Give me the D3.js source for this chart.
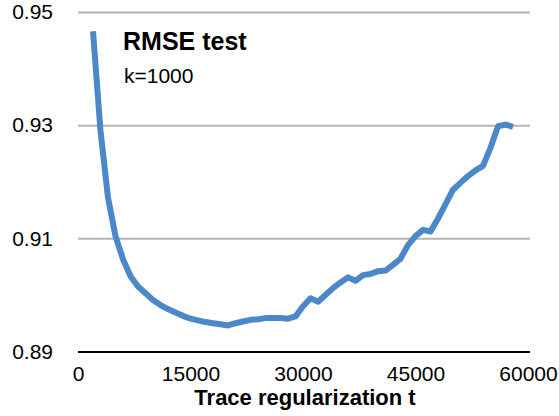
<!DOCTYPE html>
<html>
  <head>
    <script src="https://cdn.jsdelivr.net/npm/d3@7"></script>
    <style>
      html, body {
        margin: 0;
        padding: 0;
        background: #fff;
      }
      body {
        font-family: 'Liberation Sans', Arial, Helvetica, sans-serif;
      }
      #chart svg {
        display: block;
      }
    </style>
  </head>
  <body>
    <div id="chart"></div>
    <script>
      // trace regularization t
      var tValues = [2000, 3000, 4000, 5000, 6000, 7000, 8000, 9000, 10000,
        11000, 12000, 13000, 14000, 15000, 16000, 17000, 18000, 19000, 20000,
        21000, 22000, 23000, 24000, 25000, 26000, 27000, 28000, 29000, 30000,
        31000, 32000, 33000, 34000, 35000, 36000, 37000, 38000, 39000, 40000,
        41000, 42000, 43000, 44000, 45000, 46000, 47000, 48000, 49000, 50000,
        51000, 52000, 53000, 54000, 55000, 56000, 57000, 58000];
      // RMSE on test set
      var rmseValues = [0.9466, 0.9290, 0.9172, 0.9104, 0.9063, 0.9033, 0.9015, 0.9003, 0.8991,
        0.8982, 0.8975, 0.8969, 0.8963, 0.8958, 0.8955, 0.8952, 0.8950, 0.8948, 0.8946,
        0.8950, 0.8953, 0.8956, 0.8957, 0.8959, 0.8959, 0.8959, 0.8958, 0.8962, 0.8980,
        0.8994, 0.8988, 0.9000, 0.9012, 0.9022, 0.9031, 0.9025, 0.9035, 0.9037, 0.9042,
        0.9043, 0.9053, 0.9064, 0.9088, 0.9104, 0.9115, 0.9112, 0.9135, 0.9160, 0.9186,
        0.9198, 0.9210, 0.9220, 0.9228, 0.9260, 0.9298, 0.9301, 0.9297];
      var xTicks = [0, 15000, 30000, 45000, 60000];
      var yTicks = [0.89, 0.91, 0.93, 0.95];

      var width = 559;
      var height = 416;

      var svg = d3.select("#chart").append("svg")
        .attr("width", width)
        .attr("height", height);

      var x = d3.scaleLinear().domain([0, 60000]).range([78, 528]);
      var y = d3.scaleLinear().domain([0.89, 0.95]).range([351.5, 12]);

      // horizontal gridlines + y labels
      var yAxis = svg.append("g")
        .attr("transform", "translate(78,0)")
        .call(d3.axisLeft(y).tickValues(yTicks).tickFormat(d3.format(".2f")).tickSize(-452).tickPadding(25));
      yAxis.select(".domain").remove();
      yAxis.selectAll(".tick line")
        .attr("stroke", function (d) { return d === 0.89 ? "#000" : "#b4b4b4"; })
        .attr("stroke-width", 2);
      yAxis.selectAll(".tick text")
        .attr("font-size", 21)
        .attr("font-family", "'Liberation Sans', Arial, sans-serif")
        .attr("fill", "#000");

      // x labels
      var xAxis = svg.append("g")
        .attr("transform", "translate(0,351.5)")
        .call(d3.axisBottom(x).tickValues(xTicks).tickFormat(d3.format("d")).tickSize(0).tickPadding(15));
      xAxis.select(".domain").remove();
      xAxis.selectAll(".tick text")
        .attr("font-size", 21)
        .attr("font-family", "'Liberation Sans', Arial, sans-serif")
        .attr("fill", "#000");

      svg.append("text")
        .attr("x", 305)
        .attr("y", 405)
        .attr("text-anchor", "middle")
        .attr("font-size", 22)
        .attr("font-weight", "bold")
        .text("Trace regularization t");

      // the curve
      var line = d3.line()
        .x(function (d, i) { return x(tValues[i]); })
        .y(function (d) { return y(d); });

      svg.append("path")
        .datum(rmseValues)
        .attr("fill", "none")
        .attr("stroke", "#4a88c9")
        .attr("stroke-width", 6)
        .attr("stroke-linejoin", "round")
        .attr("d", line);

      // title
      svg.append("text")
        .attr("x", 123)
        .attr("y", 50)
        .attr("font-size", 25)
        .attr("font-weight", "bold")
        .text("RMSE test");

      svg.append("text")
        .attr("x", 124)
        .attr("y", 83)
        .attr("font-size", 21)
        .text("k=1000");
    </script>
  </body>
</html>
